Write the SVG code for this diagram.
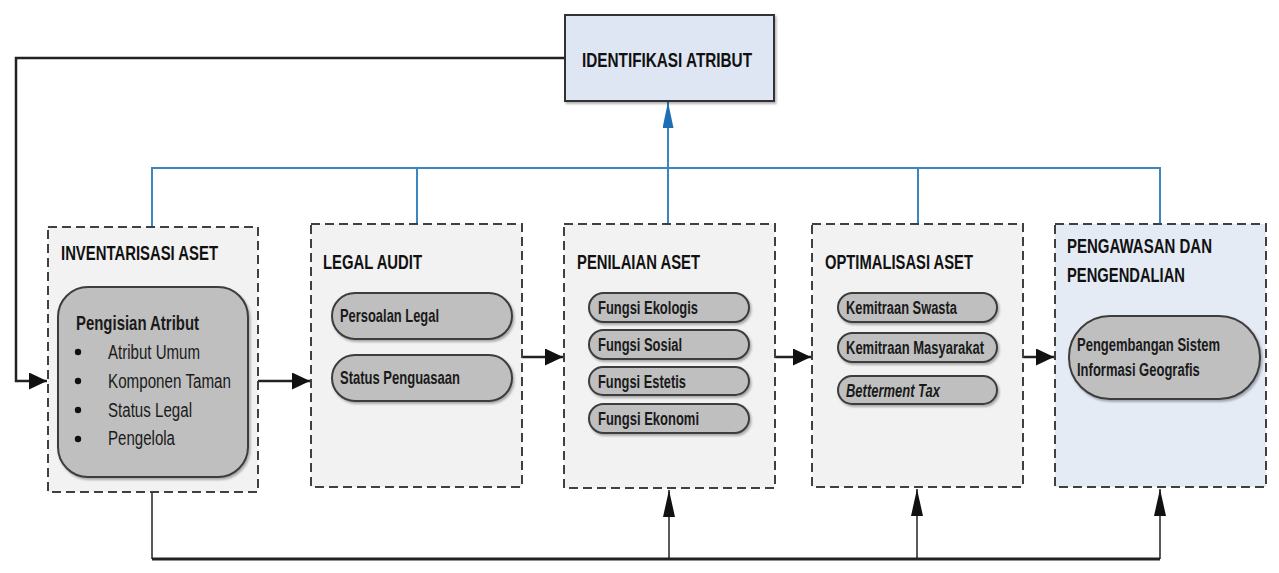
<svg xmlns="http://www.w3.org/2000/svg" width="1279" height="573" viewBox="0 0 1279 573">
<style>
  .panel { fill:#f2f2f2; stroke:#404040; stroke-width:2; stroke-dasharray:9 5; }
  .panel5 { fill:#e5ebf5; }
  .pill { fill:#bfbfbf; stroke:#3c3c3c; stroke-width:2; filter:url(#sh); }
  .head { font-family:"Liberation Sans Narrow","Liberation Sans",Arial,sans-serif; font-weight:bold; font-size:21px; fill:#111; }
  .lbl { font-family:"Liberation Sans Narrow","Liberation Sans",Arial,sans-serif; font-weight:bold; font-size:19px; fill:#1a1a1a; }
  .sm { font-size:18px; }
  .reg { font-family:"Liberation Sans Narrow","Liberation Sans",Arial,sans-serif; font-size:20px; fill:#1a1a1a; }
  .blk { fill:none; stroke:#222; stroke-width:2.5; }
  .thin { fill:none; stroke:#222; stroke-width:1.5; }
  .blue { fill:none; stroke:#3a86c2; stroke-width:2; }
  .tick { stroke:#404040; stroke-width:1.5; }
</style>
<defs>
  <filter id="sh" x="-10%" y="-10%" width="130%" height="140%">
    <feDropShadow dx="1.5" dy="2" stdDeviation="1.2" flood-color="#000" flood-opacity="0.3"/>
  </filter>
  <marker id="ah" viewBox="0 0 10 10" refX="10" refY="5" markerUnits="userSpaceOnUse" markerWidth="18" markerHeight="17" preserveAspectRatio="none" orient="auto">
    <path d="M0,0 L10,5 L0,10 z" fill="#111"/>
  </marker>
  <marker id="au" viewBox="0 0 10 10" refX="10" refY="5" markerUnits="userSpaceOnUse" markerWidth="27" markerHeight="12" preserveAspectRatio="none" orient="auto">
    <path d="M0,0 L10,5 L0,10 z" fill="#111"/>
  </marker>
  <marker id="ab" viewBox="0 0 10 10" refX="10" refY="5" markerUnits="userSpaceOnUse" markerWidth="26" markerHeight="11" preserveAspectRatio="none" orient="auto">
    <path d="M0,0 L10,5 L0,10 z" fill="#1f6fb5"/>
  </marker>
</defs>
<rect width="1279" height="573" fill="#ffffff"/>

<g id="connectors">
  <path class="blk" d="M565,58 H16 V381 H47" marker-end="url(#ah)"/>
  <path class="blue" d="M152,227 V168 H1160 V224 M417,168 V224 M918,168 V224"/>
  <path class="blue" d="M668,224 V102" marker-end="url(#ab)"/>
  <path class="blk" d="M248,381 H310" marker-end="url(#ah)"/>
  <path class="blk" d="M522,357 H563" marker-end="url(#ah)"/>
  <path class="blk" d="M775,357 H811" marker-end="url(#ah)"/>
  <path class="blk" d="M1023,357 H1054" marker-end="url(#ah)"/>
  <path class="thin" d="M152,492 V559"/>
  <path class="blk" style="stroke-width:3" d="M152,559 H1160"/>
  <path class="thin" d="M669,559 V490" marker-end="url(#au)"/>
  <path class="thin" d="M917,559 V489" marker-end="url(#au)"/>
  <path class="thin" d="M1160,559 V489" marker-end="url(#au)"/>
  <line class="tick" x1="669" y1="395" x2="669" y2="404"/>
  <line class="tick" x1="917" y1="286" x2="917" y2="293"/>
</g>

<g id="identifikasi">
  <rect x="565" y="15" width="209" height="86" fill="#dfe6f3" stroke="#333" stroke-width="2" filter="url(#sh)"/>
  <text class="head" x="582" y="67" textLength="170" lengthAdjust="spacingAndGlyphs">IDENTIFIKASI ATRIBUT</text>
</g>

<g id="inventarisasi">
  <rect class="panel" x="48" y="227" width="210" height="265"/>
  <text class="head" x="61" y="260" textLength="157" lengthAdjust="spacingAndGlyphs">INVENTARISASI ASET</text>
  <rect class="pill" x="58" y="287" width="190" height="190" rx="30"/>
  <text class="lbl" style="font-size:21px" x="76" y="330" textLength="123" lengthAdjust="spacingAndGlyphs">Pengisian Atribut</text>
  <g fill="#111">
    <circle cx="78" cy="352" r="3.2"/>
    <circle cx="78" cy="381" r="3.2"/>
    <circle cx="78" cy="410" r="3.2"/>
    <circle cx="78" cy="439" r="3.2"/>
  </g>
  <text class="reg" x="108" y="359" textLength="92" lengthAdjust="spacingAndGlyphs">Atribut Umum</text>
  <text class="reg" x="108" y="388" textLength="123" lengthAdjust="spacingAndGlyphs">Komponen Taman</text>
  <text class="reg" x="108" y="417" textLength="84" lengthAdjust="spacingAndGlyphs">Status Legal</text>
  <text class="reg" x="108" y="445" textLength="67" lengthAdjust="spacingAndGlyphs">Pengelola</text>
</g>

<g id="legal-audit">
  <rect class="panel" x="311" y="224" width="211" height="263"/>
  <text class="head" x="323" y="269" textLength="99" lengthAdjust="spacingAndGlyphs">LEGAL AUDIT</text>
  <rect class="pill" x="332" y="293" width="180" height="46" rx="23"/>
  <text class="lbl" x="340" y="322" textLength="99" lengthAdjust="spacingAndGlyphs">Persoalan Legal</text>
  <rect class="pill" x="332" y="355" width="180" height="46" rx="23"/>
  <text class="lbl" x="340" y="384" textLength="120" lengthAdjust="spacingAndGlyphs">Status Penguasaan</text>
</g>

<g id="penilaian-aset">
  <rect class="panel" x="564" y="224" width="211" height="264"/>
  <text class="head" x="577" y="269" textLength="123" lengthAdjust="spacingAndGlyphs">PENILAIAN ASET</text>
  <rect class="pill" x="589" y="293" width="160" height="29" rx="14.5"/>
  <text class="lbl sm" x="598" y="314" textLength="100" lengthAdjust="spacingAndGlyphs">Fungsi Ekologis</text>
  <rect class="pill" x="589" y="330" width="160" height="29" rx="14.5"/>
  <text class="lbl sm" x="598" y="351" textLength="84" lengthAdjust="spacingAndGlyphs">Fungsi Sosial</text>
  <rect class="pill" x="589" y="367" width="160" height="28" rx="14"/>
  <text class="lbl sm" x="598" y="388" textLength="88" lengthAdjust="spacingAndGlyphs">Fungsi Estetis</text>
  <rect class="pill" x="589" y="404" width="160" height="29" rx="14.5"/>
  <text class="lbl sm" x="598" y="425" textLength="101" lengthAdjust="spacingAndGlyphs">Fungsi Ekonomi</text>
</g>

<g id="optimalisasi-aset">
  <rect class="panel" x="812" y="224" width="211" height="263"/>
  <text class="head" x="825" y="269" textLength="148" lengthAdjust="spacingAndGlyphs">OPTIMALISASI ASET</text>
  <rect class="pill" x="838" y="293" width="159" height="29" rx="14.5"/>
  <text class="lbl sm" x="846" y="314" textLength="111" lengthAdjust="spacingAndGlyphs">Kemitraan Swasta</text>
  <rect class="pill" x="838" y="333" width="159" height="29" rx="14.5"/>
  <text class="lbl sm" x="846" y="354" textLength="138" lengthAdjust="spacingAndGlyphs">Kemitraan Masyarakat</text>
  <rect class="pill" x="838" y="376" width="159" height="28" rx="14"/>
  <text class="lbl sm" font-style="italic" x="846" y="397" textLength="94" lengthAdjust="spacingAndGlyphs">Betterment Tax</text>
</g>

<g id="pengawasan">
  <rect class="panel panel5" x="1055" y="224" width="211" height="263"/>
  <text class="head" x="1067" y="253" textLength="145" lengthAdjust="spacingAndGlyphs">PENGAWASAN DAN</text>
  <text class="head" x="1067" y="282" textLength="118" lengthAdjust="spacingAndGlyphs">PENGENDALIAN</text>
  <rect class="pill" x="1069" y="316" width="191" height="83" rx="41"/>
  <text class="lbl" transform="translate(1077,351) scale(0.685,1)" x="0" y="0">Pengembangan Sistem</text>
  <text class="lbl" transform="translate(1077,376) scale(0.685,1)" x="0" y="0">Informasi Geografis</text>
</g>
</svg>
